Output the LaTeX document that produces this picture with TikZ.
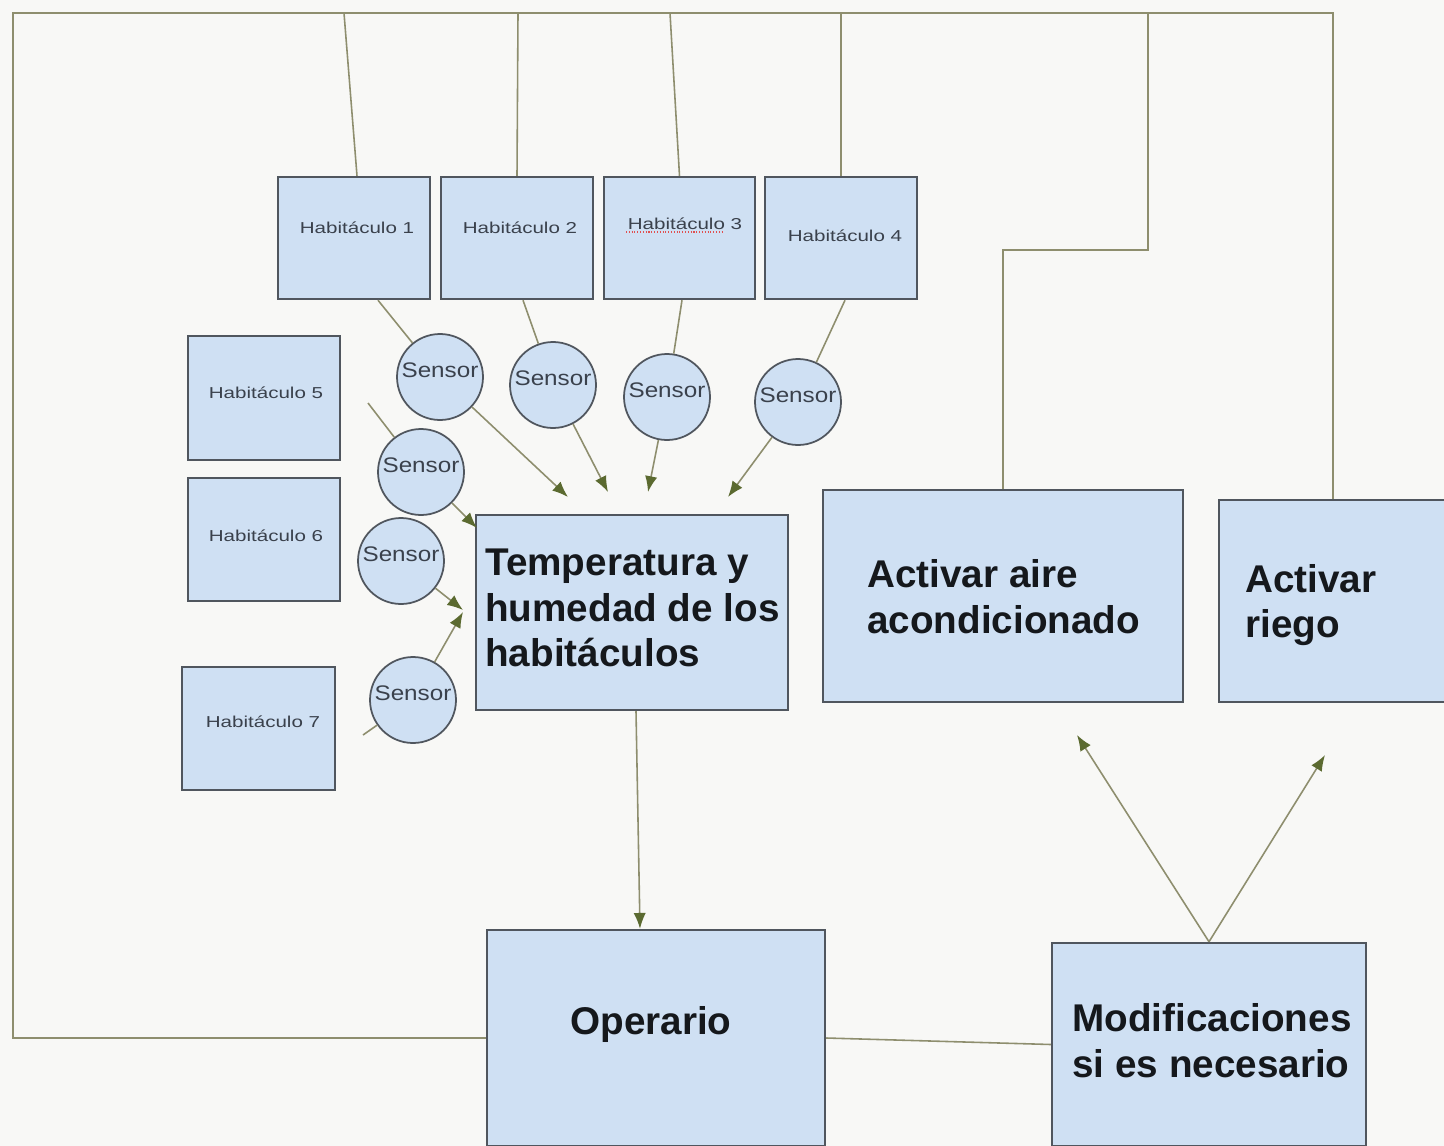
\documentclass[tikz,border=0pt]{standalone}
\usepackage{fontspec}
\setmainfont{Liberation Sans}
\usetikzlibrary{arrows.meta}
\newdimen\pxu \pxu=0.02cm
\definecolor{bgc}{HTML}{F8F8F6}
\definecolor{boxfill}{HTML}{CFE0F3}
\definecolor{boxdraw}{HTML}{50565E}
\definecolor{wire}{HTML}{8E8E6E}
\definecolor{tipc}{HTML}{5B6A30}
\definecolor{txt}{HTML}{15181C}
\definecolor{smalltxt}{HTML}{3A414C}
\definecolor{spell}{HTML}{E05050}
\begin{document}
\begin{tikzpicture}[x=0.02cm,y=-0.02cm,
  box/.style={rectangle, draw=boxdraw, fill=boxfill, line width=1.4pt, inner sep=0pt},
  sensor/.style={circle, draw=boxdraw, fill=boxfill, line width=1pt, minimum size=86\pxu, inner sep=0pt},
  wireline/.style={draw=wire, line width=0.9pt},
  arr/.style={draw=wire, line width=0.9pt, -{Latex[length=9pt,width=7pt,color=tipc]}},
  bigtext/.style={font=\fontsize{22}{26}\selectfont\bfseries, text=txt, align=left, inner sep=0pt},
  habtext/.style={font=\fontsize{9}{10}\selectfont, text=smalltxt, inner sep=0pt},
  senstext/.style={font=\fontsize{12}{14}\selectfont, text=smalltxt, inner sep=0pt}]
\useasboundingbox (0,0) rectangle (1444,1146);
\clip (0,0) rectangle (1444,1146);
\fill[bgc] (0,0) rectangle (1444,1146);

% habitaculo boxes
\node[box, minimum width=152\pxu, minimum height=122\pxu] (h1) at (354,238) {};
\node[box, minimum width=152\pxu, minimum height=122\pxu] (h2) at (517,238) {};
\node[box, minimum width=151\pxu, minimum height=122\pxu] (h3) at (679.5,238) {};
\node[box, minimum width=152\pxu, minimum height=122\pxu] (h4) at (841,238) {};
\node[box, minimum width=152\pxu, minimum height=124\pxu] (h5) at (264,398) {};
\node[box, minimum width=152\pxu, minimum height=123\pxu] (h6) at (264,539.5) {};
\node[box, minimum width=153\pxu, minimum height=123\pxu] (h7) at (258.5,728.5) {};

\node[habtext] (h1t) at (357,228) {\scalebox{1.3}[1]{Habitáculo 1}};
\node[habtext] (h2t) at (520,228) {\scalebox{1.3}[1]{Habitáculo 2}};
\node[habtext] (h3t) at (685,224) {\scalebox{1.3}[1]{Habitáculo 3}};
\node[habtext] (h4t) at (845,236) {\scalebox{1.3}[1]{Habitáculo 4}};
\node[habtext] (h5t) at (266,393) {\scalebox{1.3}[1]{Habitáculo 5}};
\node[habtext] (h6t) at (266,536) {\scalebox{1.3}[1]{Habitáculo 6}};
\node[habtext] (h7t) at (263,722) {\scalebox{1.3}[1]{Habitáculo 7}};
\draw[spell, densely dotted, line width=0.6pt] (626,232) -- (724,232);

% main boxes
\node[box, minimum width=312\pxu, minimum height=195\pxu] (temp) at (632,612.5) {};
\node[box, minimum width=360\pxu, minimum height=212\pxu] (aire) at (1003,596) {};
\node[box, minimum width=228\pxu, minimum height=202\pxu] (riego) at (1333,601) {};
\node[box, minimum width=338\pxu, minimum height=216\pxu] (op) at (656,1038) {};
\node[box, minimum width=314\pxu, minimum height=203\pxu] (mod) at (1209,1044.5) {};

\node[bigtext, anchor=west] (tempt) at (485,608) {Temperatura y\\humedad de los\\habitáculos};
\node[bigtext, anchor=west] (airet) at (867,597) {Activar aire\\acondicionado};
\node[bigtext, anchor=west] (riegot) at (1245,605) {Activar\\riego};
\node[bigtext] (opt) at (651,1024) {Operario};
\node[bigtext, anchor=west] (modt) at (1072,1041) {Modificaciones\\si es necesario};

% sensors
\node[sensor] (s1) at (440,377) {};
\node[sensor] (s2) at (553,385) {};
\node[sensor] (s3) at (667,397) {};
\node[sensor] (s4) at (798,402) {};
\node[sensor] (s5) at (421,472) {};
\node[sensor] (s6) at (401,561) {};
\node[sensor] (s7) at (413,700) {};
\foreach \s in {s1,s2,s3,s4,s5,s6,s7}{
  \node[senstext] (\s t) at ([yshift=7\pxu]\s.center) {\scalebox{1.15}[1]{Sensor}};
}

% frame connectors
\coordinate (bl) at (13,1038);
\coordinate (tl) at (13,13);
\coordinate (tr) at (1333,13);
\draw[wireline] (op.west) -- (bl) -- (tl) -- (tr) -- (riego.north);
\coordinate (a1) at (1003,250);
\coordinate (a2) at (1148,250);
\coordinate (a3) at (1148,13);
\draw[wireline] (aire.north) -- (a1) -- (a2) -- (a3);

\coordinate (h1top) at (344,13);
\coordinate (h2top) at (518,13);
\coordinate (h3top) at (670,13);
\coordinate (h4top) at (841,13);
\draw[wireline] ([xshift=3\pxu]h1.north) -- (h1top);
\draw[wireline] (h2.north) -- (h2top);
\draw[wireline] (h3.north) -- (h3top);
\draw[wireline] (h4.north) -- (h4top);

% habitaculo to sensor
\draw[wireline] ([xshift=24\pxu]h1.south) -- (s1);
\draw[wireline] ([xshift=6\pxu]h2.south) -- (s2);
\draw[wireline] ([xshift=2.5\pxu]h3.south) -- (s3);
\draw[wireline] ([xshift=4\pxu]h4.south) -- (s4);
\coordinate (s5in) at (368,403);
\draw[wireline] (s5in) -- (s5);
\coordinate (s7in) at (363,735);
\draw[wireline] (s7in) -- (s7);

% sensor arrows
\coordinate (t1) at (568,497);
\coordinate (t2) at (608,492);
\coordinate (t3) at (648,492);
\coordinate (t4) at (728,497);
\coordinate (t5) at (477,528);
\coordinate (t6) at (463,610);
\coordinate (t7) at (463,612);
\draw[arr] (s1) -- (t1);
\draw[arr] (s2) -- (t2);
\draw[arr] (s3) -- (t3);
\draw[arr] (s4) -- (t4);
\draw[arr] (s5) -- (t5);
\draw[arr] (s6) -- (t6);
\draw[arr] (s7) -- (t7);

% flow
\draw[arr] ([xshift=4\pxu]temp.south) -- ([xshift=-16\pxu]op.north);
\draw[wireline] (op.east) -- (mod.west);
\coordinate (m1) at (1077,735);
\coordinate (m2) at (1325,755);
\draw[arr] (mod.north) -- (m1);
\draw[arr] (mod.north) -- (m2);
\end{tikzpicture}
\end{document}
